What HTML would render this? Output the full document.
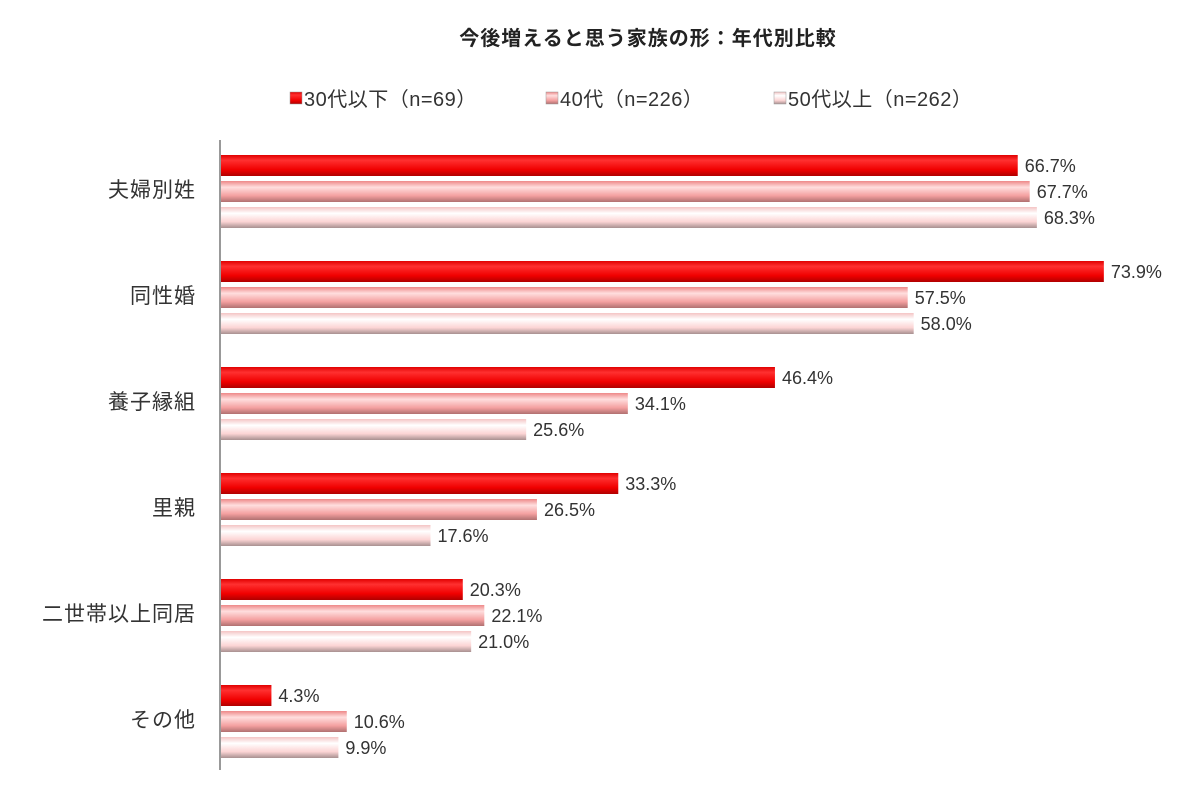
<!DOCTYPE html>
<html><head><meta charset="utf-8"><style>
body{margin:0;background:#fff;width:1200px;height:796px;overflow:hidden}
svg{display:block;font-family:"Liberation Sans","Noto Sans CJK JP",sans-serif}
</style></head><body>
<svg id="chart" width="1200" height="796">
<defs>
<linearGradient id="g0" x1="0" y1="0" x2="0" y2="1"><stop offset="0" stop-color="#e00000"/><stop offset="0.25" stop-color="#ff3030"/><stop offset="0.7" stop-color="#f00000"/><stop offset="1" stop-color="#b00000"/></linearGradient>
<linearGradient id="g1" x1="0" y1="0" x2="0" y2="1"><stop offset="0" stop-color="#e88"/><stop offset="0.3" stop-color="#ffdede"/><stop offset="0.7" stop-color="#f4a0a0"/><stop offset="1" stop-color="#b07070"/></linearGradient>
<linearGradient id="g2" x1="0" y1="0" x2="0" y2="1"><stop offset="0" stop-color="#f4c4c4"/><stop offset="0.3" stop-color="#fff"/><stop offset="0.7" stop-color="#fcd4d4"/><stop offset="1" stop-color="#a89090"/></linearGradient>
</defs>
<text x="648" y="45" text-anchor="middle" font-size="20" font-weight="bold" letter-spacing="1" fill="#222">今後増えると思う家族の形：年代別比較</text>
<g id="legend"></g>
<line x1="220" y1="140" x2="220" y2="770" stroke="#999" stroke-width="2"/>
<g id="bars"></g>
</svg>
<script>
const categories=["夫婦別姓","同性婚","養子縁組","里親","二世帯以上同居","その他"];
const seriesNames=["30代以下（n=69）","40代（n=226）","50代以上（n=262）"];
const s30=[66.7,73.9,46.4,33.3,20.3,4.3];
const s40=[67.7,57.5,34.1,26.5,22.1,10.6];
const s50=[68.3,58.0,25.6,17.6,21.0,9.9];
const series=[s30,s40,s50];
const NS="http://www.w3.org/2000/svg";
const x0=220,pxPer=11.96;
function xs(v){return x0+v*pxPer;}
function groupY(i){return 155+i*106;}
const bars=document.getElementById('bars');
const fills=["url(#g0)","url(#g1)","url(#g2)"];
const legendX=[290,546,774];
const lg=document.getElementById('legend');
seriesNames.forEach((n,k)=>{
 const r=document.createElementNS(NS,'rect');
 r.setAttribute('x',legendX[k]);r.setAttribute('y',92);r.setAttribute('width',12);r.setAttribute('height',12);
 r.setAttribute('fill',fills[k]);r.setAttribute('stroke','#999');r.setAttribute('stroke-width','0.5');
 
 
 lg.appendChild(r);
 const t=document.createElementNS(NS,'text');
 t.setAttribute('x',legendX[k]+14);t.setAttribute('y',106);t.setAttribute('font-size','20');t.setAttribute('letter-spacing','0.5');t.setAttribute('fill','#333');
 t.textContent=n;
 
 
 lg.appendChild(t);
});
categories.forEach((c,i)=>{
 const gy=groupY(i);
 const t=document.createElementNS(NS,'text');
 t.setAttribute('x',196);t.setAttribute('y',gy+42);t.setAttribute('text-anchor','end');t.setAttribute('font-size','21');t.setAttribute('letter-spacing','1');t.setAttribute('fill','#333');
 t.textContent=c;
 
 
 bars.appendChild(t);
 series.forEach((s,k)=>{
  const y=gy+k*26;
  const r=document.createElementNS(NS,'rect');
  r.setAttribute('x',x0+1);r.setAttribute('y',y);r.setAttribute('width',xs(s[i])-x0-1);r.setAttribute('height',21);
  r.setAttribute('fill',fills[k]);
  
  
  bars.appendChild(r);
  const l=document.createElementNS(NS,'text');
  l.setAttribute('x',xs(s[i])+7);l.setAttribute('y',y+17);l.setAttribute('font-size','18');l.setAttribute('fill','#333');
  l.textContent=s[i].toFixed(1)+'%';
  
  
  bars.appendChild(l);
 });
});
</script>
</body></html>
